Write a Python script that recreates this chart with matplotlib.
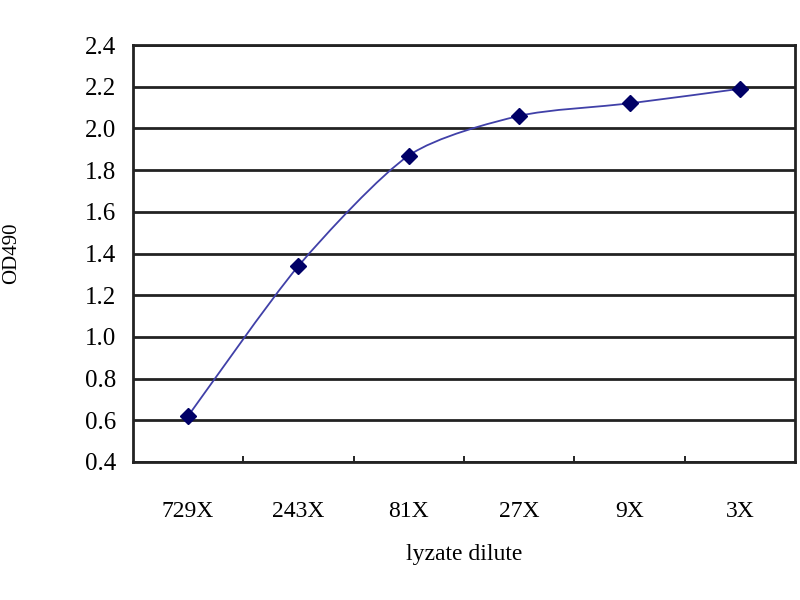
import matplotlib
matplotlib.use("Agg")
import matplotlib.pyplot as plt
import numpy as np
from matplotlib.path import Path
from matplotlib.patches import PathPatch

dilutions = ["729X", "243X", "81X", "27X", "9X", "3X"]
od490 = [0.62, 1.34, 1.87, 2.06, 2.12, 2.19]
y_ticks = [0.4, 0.6, 0.8, 1.0, 1.2, 1.4, 1.6, 1.8, 2.0, 2.2, 2.4]

plt.rcParams["font.family"] = ["Liberation Serif", "DejaVu Serif"]

fig = plt.figure(figsize=(8, 6), dpi=100)
ax = fig.add_axes([0.166, 0.23, 0.828, 0.695])

x = np.arange(len(dilutions), dtype=float)
y = np.array(od490)

# Excel-style smoothed line: cubic Bezier segments through the points
verts = [(x[0], y[0])]
codes = [Path.MOVETO]
for i in range(len(x) - 1):
    p0 = np.array([x[max(i - 1, 0)], y[max(i - 1, 0)]])
    p1 = np.array([x[i], y[i]])
    p2 = np.array([x[i + 1], y[i + 1]])
    p3 = np.array([x[min(i + 2, len(x) - 1)], y[min(i + 2, len(x) - 1)]])
    c1 = p1 + (p2 - p0) / 8.0
    c2 = p2 - (p3 - p1) / 8.0
    verts += [tuple(c1), tuple(c2), tuple(p2)]
    codes += [Path.CURVE4] * 3
ax.add_patch(PathPatch(Path(verts, codes), facecolor="none", edgecolor="#4040a8", linewidth=1.3, zorder=3))
ax.plot(x, y, linestyle="none", marker="D", markersize=8, color="#000066", zorder=4)

ax.set_xlim(-0.5, len(dilutions) - 0.5)
ax.set_ylim(0.4, 2.4)
ax.set_yticks(y_ticks)
ax.set_yticklabels([f"{v:.1f}" for v in y_ticks], fontsize=18)
ax.yaxis.grid(True, color="#222222", linewidth=2.0)
ax.set_axisbelow(True)
ax.tick_params(axis="y", length=0, pad=12)

ax.set_xticks(x)
ax.set_xticklabels(dilutions, fontsize=17)
ax.tick_params(axis="x", which="major", length=0, pad=28)
ax.set_xticks(np.arange(0.5, len(dilutions) - 1, 1.0), minor=True)
ax.tick_params(axis="x", which="minor", direction="in", length=4, width=1.2)

for side in ax.spines.values():
    side.set_color("#222222")
    side.set_linewidth(2.0)

ax.set_xlabel("lyzate dilute", fontsize=17, labelpad=16)
ax.set_ylabel("OD490", fontsize=15, labelpad=46)

fig.savefig("out.png", dpi=100)
